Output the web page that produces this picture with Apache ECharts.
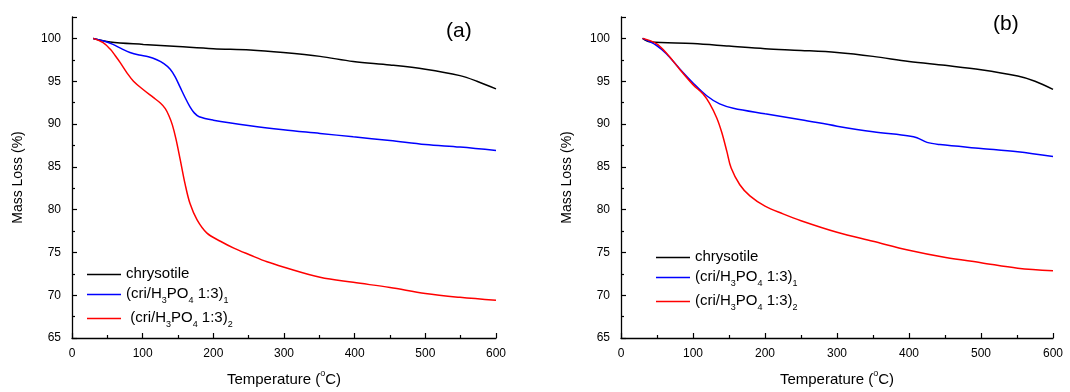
<!DOCTYPE html>
<html><head><meta charset="utf-8">
<script src="https://cdn.jsdelivr.net/npm/echarts@6/dist/echarts.min.js"></script>
<style>html,body{margin:0;padding:0;background:#fff}#c{width:1070px;height:392px}</style>
</head><body><div id="c"></div>
<script>
// Panel (a) data: [temperature °C, mass %]
const aChrysotile = [[30,100],[54,99.58],[101,99.3],[150,99.05],[200,98.8],[252,98.65],[299,98.35],[351,97.9],[398,97.3],[450,96.9],[500,96.4],[549,95.65],[573,95.0],[600,94.1]];
const aCri1 = [[30,100],[45,99.7],[58,99.3],[70,98.8],[82,98.35],[95,98.05],[108,97.85],[120,97.5],[130,97.05],[139,96.4],[146,95.5],[153,94.3],[160,93.1],[167,92.0],[173,91.3],[180,90.85],[200,90.45],[252,89.8],[299,89.33],[351,88.9],[398,88.5],[450,88.07],[500,87.6],[549,87.3],[600,86.9]];
const aCri2 = [[30,100],[44,99.5],[54,98.75],[61,98.0],[68,97.2],[78,95.95],[87,95.0],[101,94.0],[115,93.1],[125,92.45],[132,91.8],[137,91.0],[142,89.9],[147,88.3],[153,85.9],[160,83.0],[167,80.7],[177,78.8],[191,77.25],[210,76.3],[229,75.5],[252,74.7],[276,73.9],[299,73.3],[351,72.1],[398,71.5],[450,70.9],[500,70.2],[549,69.75],[600,69.4]];
// Panel (b) data
const bChrysotile = [[30,100],[40,99.6],[100,99.4],[150,99.1],[200,98.8],[250,98.6],[300,98.35],[350,97.9],[400,97.3],[450,96.85],[500,96.35],[551,95.6],[575,95.0],[600,94.05]];
const bCri1 = [[30,100],[49,99.2],[63,98.2],[82,96.4],[100,94.8],[119,93.3],[137,92.35],[156,91.85],[200,91.2],[250,90.5],[300,89.75],[350,89.1],[400,88.6],[411,88.4],[425,87.85],[443,87.6],[500,87.15],[551,86.75],[600,86.2]];
const bCri2 = [[30,100],[49,99.4],[63,98.3],[82,96.35],[100,94.6],[114,93.5],[123,92.4],[133,90.7],[140,89.0],[147,86.8],[153,84.85],[165,82.9],[179,81.6],[200,80.4],[225,79.5],[250,78.7],[300,77.35],[350,76.3],[400,75.25],[451,74.4],[500,73.8],[551,73.15],[600,72.85]];
const seriesNames = ['chrysotile','cri1','cri2'];
const panelTitles = ['(a)','(b)'];
const xTitle = 'Temperature';
const yTitle = 'Mass Loss (%)';

const FONT = 'Liberation Sans, Arial, sans-serif';
const colors = {chrysotile:'#000000', cri1:'#0000ff', cri2:'#ff0000'};
const richLegend = {
  n:{fontSize:15, fontFamily:FONT, color:'#000', lineHeight:17, verticalAlign:'top'},
  s:{fontSize:9, fontFamily:FONT, color:'#000', lineHeight:10, verticalAlign:'top', padding:[10,0,0,0]}
};
function legendFmt(lead){
  return function(name){
    if(name==='chrysotile') return '{n|chrysotile}';
    const k = name==='cri1' ? '1' : '2';
    const sp = (lead && name==='cri2') ? ' ' : '';
    return '{n|'+sp+'(cri/H}{s|3}{n|PO}{s|4}{n| 1:3)}{s|'+k+'}';
  };
}
function xAxisOf(i){
  return {
    gridIndex:i, type:'value', min:0, max:600, interval:100,
    axisLine:{show:true, onZero:false, lineStyle:{color:'#000', width:1.3}},
    axisTick:{inside:true, length:5, lineStyle:{color:'#000', width:1.2}},
    minorTick:{show:true, splitNumber:2, length:3, lineStyle:{color:'#000', width:1.2}},
    splitLine:{show:false},
    axisLabel:{color:'#000', fontSize:12, fontFamily:FONT, margin:10},
    name:'{n|'+xTitle+' (}{p|o}{n|C)}', nameLocation:'middle', nameGap:31,
    nameTextStyle:{rich:{n:{fontSize:15, fontFamily:FONT, color:'#000', lineHeight:18, verticalAlign:'bottom'},
                         p:{fontSize:9, fontFamily:FONT, color:'#000', lineHeight:18, verticalAlign:'top', padding:[0,0,8,0]}}}
  };
}
function yAxisOf(i){
  return {
    gridIndex:i, type:'value', min:65, max:102.5, interval:5,
    axisLine:{show:true, onZero:false, lineStyle:{color:'#000', width:1.3}},
    axisTick:{inside:true, length:5, lineStyle:{color:'#000', width:1.2}},
    minorTick:{show:true, splitNumber:2, length:3, lineStyle:{color:'#000', width:1.2}},
    splitLine:{show:false},
    axisLabel:{color:'#000', fontSize:12, fontFamily:FONT, margin:11,
      formatter:function(v){return (Math.abs(v%5)<1e-9)?String(v):'';}},
    name:yTitle, nameLocation:'middle', nameGap:47,
    nameTextStyle:{fontSize:14, fontFamily:FONT, color:'#000'}
  };
}
function ser(name, data, idx){
  return {name:name, type:'line', xAxisIndex:idx, yAxisIndex:idx, data:data, symbol:'none',
    smooth:0.35,
    lineStyle:{color:colors[name], width:1.5}, itemStyle:{color:colors[name]}, z:3, animation:false};
}
function legendOf(left, top, lead){
  return {data:seriesNames, orient:'vertical', left:left, top:top, itemWidth:34, itemHeight:1.5, itemGap:5,
    icon:'rect', formatter:legendFmt(lead), textStyle:{rich:richLegend}, selectedMode:false, padding:0};
}
const chart = echarts.init(document.getElementById('c'), null, {renderer:'canvas'});
chart.setOption({
  animation:false,
  backgroundColor:'#fff',
  title:[
    {text:panelTitles[0], left:441, top:16, textStyle:{fontSize:21, fontWeight:'normal', fontFamily:FONT, color:'#000'}},
    {text:panelTitles[1], left:988, top:9, textStyle:{fontSize:21, fontWeight:'normal', fontFamily:FONT, color:'#000'}}
  ],
  grid:[
    {left:72, right:574, top:17, bottom:49, containLabel:false},
    {left:621, right:17, top:17, bottom:50, containLabel:false}
  ],
  xAxis:[xAxisOf(0), xAxisOf(1)],
  yAxis:[yAxisOf(0), yAxisOf(1)],
  legend:[legendOf(87, 266, true), legendOf(656, 249, false)],
  series:[
    ser('chrysotile', aChrysotile, 0), ser('cri1', aCri1, 0), ser('cri2', aCri2, 0),
    ser('chrysotile', bChrysotile, 1), ser('cri1', bCri1, 1), ser('cri2', bCri2, 1)
  ]
});
</script></body></html>
